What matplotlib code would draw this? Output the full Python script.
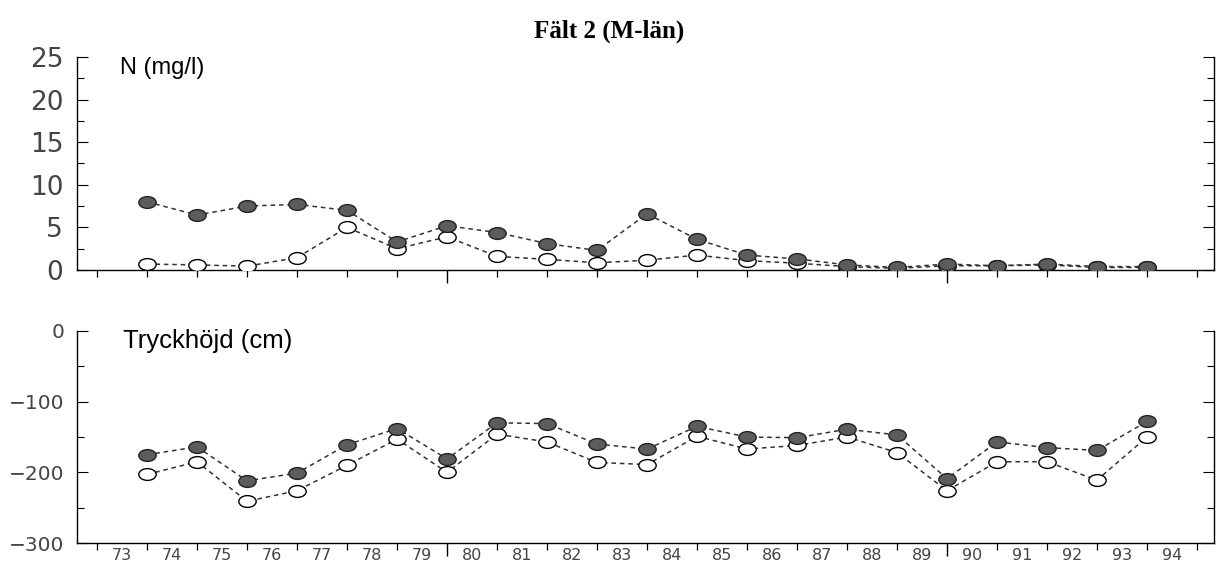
import numpy as np
import matplotlib.pyplot as plt
from matplotlib.path import Path
import matplotlib.transforms as mtransforms
from matplotlib.ticker import MultipleLocator, FixedLocator, NullFormatter

# Data
ar = [74, 75, 76, 77, 78, 79, 80, 81, 82, 83, 84, 85, 86, 87, 88, 89, 90, 91, 92, 93, 94]
ar_etiketter = ['73', '74', '75', '76', '77', '78', '79', '80', '81', '82', '83',
                '84', '85', '86', '87', '88', '89', '90', '91', '92', '93', '94']

n_fylld = [8.0, 6.45, 7.5, 7.7, 7.0, 3.3, 5.2, 4.4, 3.1, 2.3, 6.6, 3.6, 1.75, 1.3,
           0.6, 0.3, 0.7, 0.5, 0.7, 0.4, 0.4]
n_oppen = [0.7, 0.6, 0.45, 1.45, 5.0, 2.5, 3.9, 1.6, 1.25, 0.85, 1.15, 1.75, 1.1, 0.8,
           0.4, 0.2, 0.5, 0.5, 0.6, 0.3, 0.3]

tryck_fylld = [-175, -164, -212, -201, -161, -138, -181, -130, -131, -160, -167, -135,
               -150, -151, -139, -147, -209, -157, -165, -169, -128]
tryck_oppen = [-203, -185, -241, -226, -190, -153, -200, -146, -157, -186, -189, -149,
               -167, -162, -150, -172, -226, -185, -185, -211, -150]

# elliptisk markör
ellips = Path.unit_circle().transformed(mtransforms.Affine2D().scale(1.0, 0.68))

fig = plt.figure(figsize=(12.19, 5.63), dpi=100)
ax1 = fig.add_axes([0.0632, 0.5204, 0.9327, 0.3784])
ax2 = fig.add_axes([0.0632, 0.0355, 0.9327, 0.3766])

fig.text(0.5, 0.945, 'Fält 2 (M-län)', ha='center', va='center',
         fontsize=18, fontweight='bold', family='Liberation Serif')


def rita(ax, fylld, oppen):
    ax.plot(ar, oppen, linestyle=(0, (3, 2.5)), color='#333333', lw=1.1,
            marker=ellips, markersize=12.5, markerfacecolor='white',
            markeredgecolor='black', markeredgewidth=1.0, zorder=3)
    ax.plot(ar, fylld, linestyle=(0, (3, 2.5)), color='#333333', lw=1.1,
            marker=ellips, markersize=12.5, markerfacecolor='#5c5c5c',
            markeredgecolor='#222222', markeredgewidth=1.0, zorder=4)
    ax.set_xlim(72.6, 95.34)
    ax.spines['top'].set_visible(False)
    for s in ['left', 'right', 'bottom']:
        ax.spines[s].set_linewidth(1.0)
    # x-ticks at year boundaries, longer at 80 and 90
    ax.xaxis.set_major_locator(FixedLocator([80, 90]))
    ax.xaxis.set_minor_locator(FixedLocator([73, 74, 75, 76, 77, 78, 79, 81, 82, 83, 84,
                                             85, 86, 87, 88, 89, 91, 92, 93, 94, 95]))
    ax.xaxis.set_major_formatter(NullFormatter())
    ax.xaxis.set_minor_formatter(NullFormatter())
    ax.tick_params(axis='x', which='major', direction='out', length=9, width=1.0)
    ax.tick_params(axis='x', which='minor', direction='out', length=5, width=0.9)
    ax.tick_params(axis='y', which='both', direction='in', left=True, right=True,
                   width=0.8)
    ax.tick_params(axis='y', which='major', length=8)
    ax.tick_params(axis='y', which='minor', length=5)


rita(ax1, n_fylld, n_oppen)
ax1.set_ylim(0, 25)
ax1.yaxis.set_major_locator(MultipleLocator(5))
ax1.yaxis.set_minor_locator(MultipleLocator(2.5))
ax1.tick_params(axis='y', labelsize=19, pad=10, labelcolor='#444444')
ax1.text(0.038, 1.0, 'N (mg/l)', transform=ax1.transAxes, fontsize=17,
         va='top', ha='left', family='Liberation Sans')

rita(ax2, tryck_fylld, tryck_oppen)
ax2.set_ylim(-300, 0)
ax2.yaxis.set_major_locator(MultipleLocator(100))
ax2.yaxis.set_minor_locator(MultipleLocator(50))
ax2.set_yticks([0, -100, -200, -300])
ax2.set_yticklabels(['0', '\u2212100', '\u2212200', '\u2212300'])
ax2.tick_params(axis='y', labelsize=14.5, pad=9, labelcolor='#444444')
ax2.text(0.04, 1.01, 'Tryckhöjd (cm)', transform=ax2.transAxes, fontsize=18.5,
         va='top', ha='left', family='Liberation Sans')

# årtal mellan tickarna
for i, lab in enumerate(ar_etiketter):
    ax2.text(73.5 + i, -0.025, lab, transform=ax2.get_xaxis_transform(),
             ha='center', va='top', fontsize=11.5, color='#444444')

fig.savefig('out.png', dpi=100)
